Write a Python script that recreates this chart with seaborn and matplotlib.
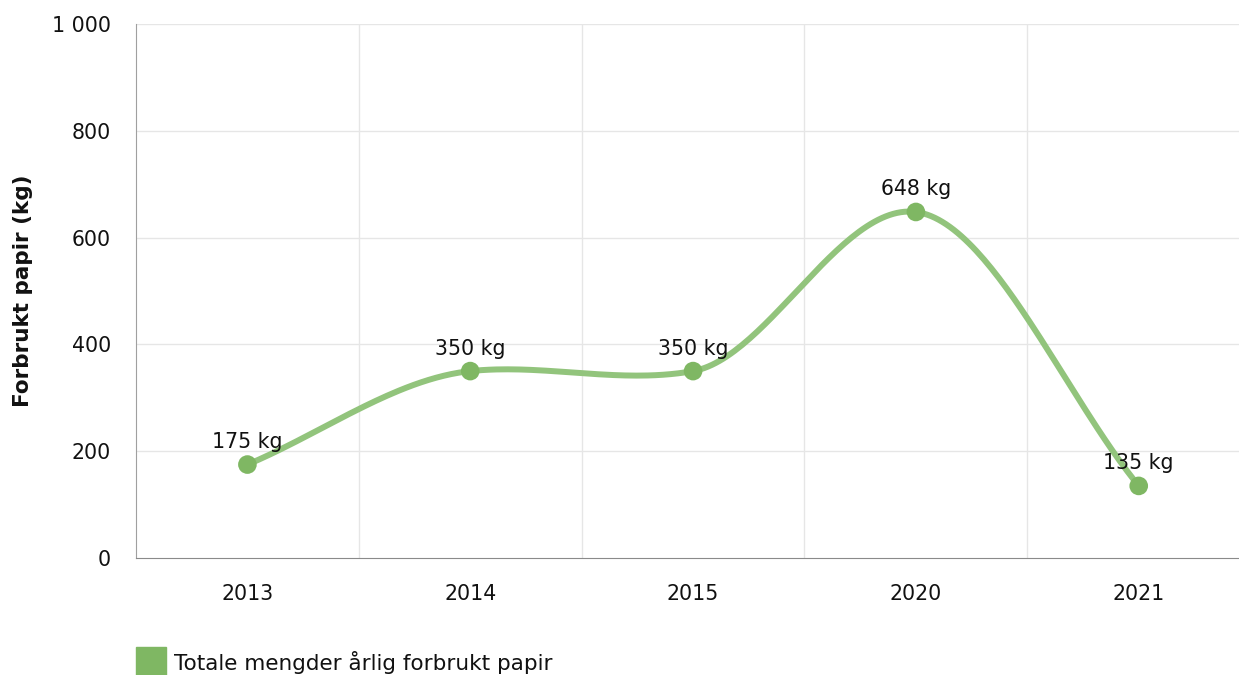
import numpy as np
import pandas as pd
import matplotlib
matplotlib.use("Agg")
import matplotlib.pyplot as plt
import seaborn as sns

years = ["2013", "2014", "2015", "2020", "2021"]
paper_kg = [175, 350, 350, 648, 135]
series_name = "Totale mengder årlig forbrukt papir"
y_ticks = [0, 200, 400, 600, 800, 1000]
y_tick_labels = ["0", "200", "400", "600", "800", "1 000"]

line_color = "#92c47c"
dot_color = "#7fb763"


def spline_curve(xs, ys, tension=0.5, n=60):
    # cubic hermite: cardinal tangents inside, one-sided secant at the ends
    xs = np.asarray(xs, float)
    ys = np.asarray(ys, float)
    m = np.gradient(ys, xs) * (1 - tension)
    m[0] = (ys[1] - ys[0]) / (xs[1] - xs[0])
    m[-1] = (ys[-1] - ys[-2]) / (xs[-1] - xs[-2])
    t = np.linspace(0, 1, n)
    px, py = [], []
    for i in range(len(xs) - 1):
        h = xs[i + 1] - xs[i]
        h00 = 2 * t**3 - 3 * t**2 + 1
        h10 = t**3 - 2 * t**2 + t
        h01 = -2 * t**3 + 3 * t**2
        h11 = t**3 - t**2
        yy = h00 * ys[i] + h10 * h * m[i] + h01 * ys[i + 1] + h11 * h * m[i + 1]
        xx = xs[i] + t * h
        s = 0 if i == 0 else 1
        px.append(xx[s:])
        py.append(yy[s:])
    return np.concatenate(px), np.concatenate(py)


pos = np.arange(len(years))
df = pd.DataFrame({"pos": pos, "kg": paper_kg})
cx, cy = spline_curve(pos, paper_kg)
curve = pd.DataFrame({"x": cx, "y": cy})

sns.set_style("white")
plt.rcParams["font.family"] = ["DejaVu Sans"]

fig = plt.figure(figsize=(12.39, 6.75), dpi=100)
ax = fig.add_axes([136 / 1239, 1 - 558 / 675, 1 - 136 / 1239, (558 - 24) / 675])

sns.lineplot(data=curve, x="x", y="y", ax=ax, color=line_color, linewidth=4.3,
             sort=False, legend=False, zorder=3, solid_capstyle="round")
sns.scatterplot(data=df, x="pos", y="kg", ax=ax, color=dot_color, s=180,
                edgecolor="none", zorder=4, legend=False)

for x, v in zip(pos, paper_kg):
    ax.annotate(f"{v} kg", (x, v), xytext=(0, 9), textcoords="offset points",
                ha="center", va="bottom", fontsize=14.8, color="#111111", zorder=5)

ax.set_xlim(-0.5, 4.45)
ax.set_ylim(0, 1000)
ax.set_xticks(pos)
ax.set_xticklabels(years)
ax.set_yticks(y_ticks)
ax.set_yticklabels(y_tick_labels)

ax.grid(False)
for yv in y_ticks[1:]:
    ax.axhline(yv, color="#e6e6e6", linewidth=1, zorder=0)
for xv in pos[:-1] + 0.5:
    ax.axvline(xv, color="#e6e6e6", linewidth=1, zorder=0)

for side in ["top", "right"]:
    ax.spines[side].set_visible(False)
ax.spines["left"].set_color("#a0a0a0")
ax.spines["bottom"].set_color("#8a8a8a")

ax.tick_params(axis="x", length=7, width=1, color="#a0a0a0",
               labelsize=14.8, pad=12, labelcolor="#111111")
ax.tick_params(axis="y", length=7, width=1, color="#a0a0a0",
               labelsize=14.8, pad=11, labelcolor="#111111")

ax.set_xlabel("")
ax.set_ylabel("Forbrukt papir (kg)", fontsize=15.5, fontweight="bold", labelpad=14,
              color="#111111")

fig.patches.append(plt.Rectangle((136 / 1239, 0), 30 / 1239, 28 / 675,
                                 transform=fig.transFigure, color=dot_color))
fig.text(174 / 1239, 1 - 662 / 675, series_name, fontsize=15.5, va="center",
         ha="left", color="#111111")

fig.savefig("out.png", dpi=100)
